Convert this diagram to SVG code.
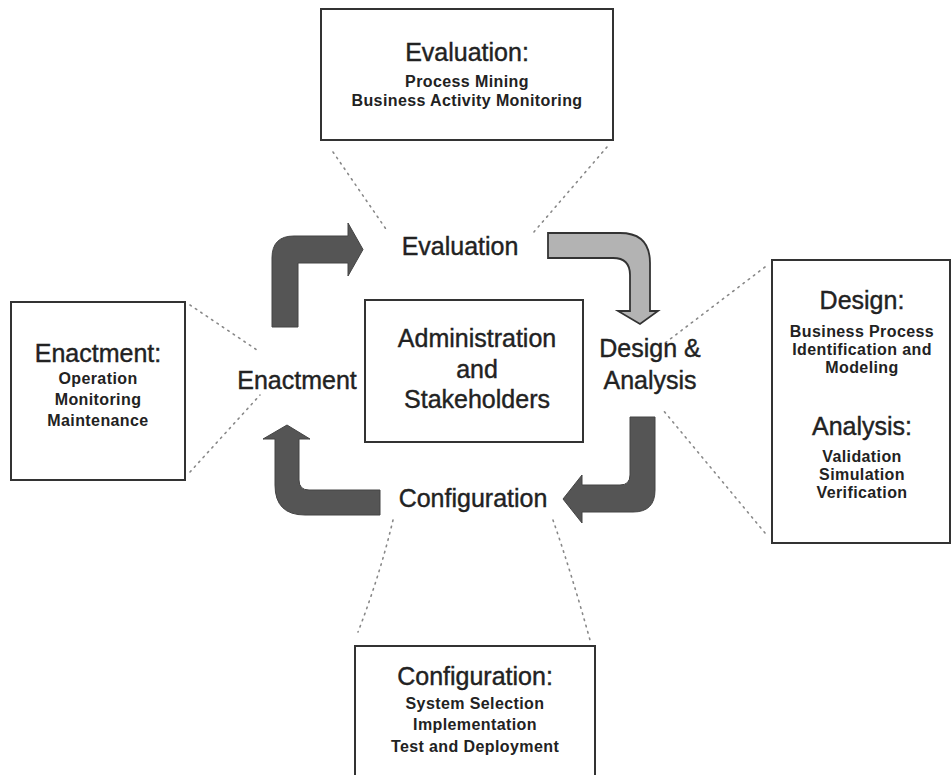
<svg xmlns="http://www.w3.org/2000/svg" width="952" height="775" viewBox="0 0 952 775">
<style>
.box{fill:#fff;stroke:#333;stroke-width:2}
.big{font-family:"Liberation Sans",Arial,sans-serif;font-size:25px;fill:#222;stroke:#222;stroke-width:0.4;text-anchor:middle}
.sm{font-family:"Liberation Sans",Arial,sans-serif;font-size:16px;font-weight:bold;letter-spacing:0.4px;fill:#222;text-anchor:middle}
.dot{fill:none;stroke:#888;stroke-width:1.6;stroke-dasharray:1.5 5;stroke-linecap:round}
.dark{fill:#555;stroke:#444;stroke-width:1}
.light{fill:#b3b3b3;stroke:#333;stroke-width:1.8}
</style>
<rect width="952" height="775" fill="#fff"/>
<g id="connectors">
<path class="dot" d="M333,152 L388,232"/>
<path class="dot" d="M607,147 L533,233"/>
<path class="dot" d="M190,305 L260,352"/>
<path class="dot" d="M190,472 L260,395"/>
<path class="dot" d="M765,267 L665,343"/>
<path class="dot" d="M765,533 L663,410"/>
<path class="dot" d="M393,520 Q380,575 358,632"/>
<path class="dot" d="M553,520 Q572,575 590,640"/>
<path id="arrow-enact-eval" class="dark" d="M272,327 L272,258 Q272,236 294,236 L348,236 L348,223 L363,249.5 L348,276 L348,263 L298,263 L298,327 Z"/>
<path id="arrow-eval-design" class="light" d="M548,233 L620,233 Q650,233 650,263 L650,311 L658,311 L640,324 L618,311 L630,311 L630,275 Q630,258 613,258 L548,258 Z"/>
<path id="arrow-design-config" class="dark" d="M630,417 L655,417 L655,490 Q655,512 633,512 L582,512 L582,523 L563,499 L582,475 L582,485 L620,485 Q630,485 630,475 Z"/>
<path id="arrow-config-enact" class="dark" d="M380,490 L380,515 L305,515 Q275,515 275,485 L275,439 L263,439 L287,425 L310,439 L299,439 L299,480 Q299,490 309,490 Z"/>
</g>
<g id="evaluation-box">
<rect class="box" x="321" y="9" width="292" height="131"/>
<text class="big" x="467" y="61">Evaluation:</text>
<text class="sm" x="467" y="87">Process Mining</text>
<text class="sm" x="467" y="106">Business Activity Monitoring</text>
</g>
<g id="enactment-box">
<rect class="box" x="11" y="302" width="174" height="178"/>
<text class="big" x="98" y="362">Enactment:</text>
<text class="sm" x="98" y="384">Operation</text>
<text class="sm" x="98" y="405">Monitoring</text>
<text class="sm" x="98" y="426">Maintenance</text>
</g>
<g id="design-box">
<rect class="box" x="772" y="260" width="178" height="283"/>
<text class="big" x="862" y="309">Design:</text>
<text class="sm" x="862" y="337">Business Process</text>
<text class="sm" x="862" y="355">Identification and</text>
<text class="sm" x="862" y="373">Modeling</text>
<text class="big" x="862" y="435">Analysis:</text>
<text class="sm" x="862" y="462">Validation</text>
<text class="sm" x="862" y="480">Simulation</text>
<text class="sm" x="862" y="498">Verification</text>
</g>
<g id="configuration-box">
<rect class="box" x="355" y="646" width="240" height="140"/>
<text class="big" x="475" y="685">Configuration:</text>
<text class="sm" x="475" y="709">System Selection</text>
<text class="sm" x="475" y="730">Implementation</text>
<text class="sm" x="475" y="752">Test and Deployment</text>
</g>
<g id="center-box">
<rect class="box" x="365" y="300" width="218" height="142"/>
<text class="big" x="477" y="347">Administration</text>
<text class="big" x="477" y="378">and</text>
<text class="big" x="477" y="408">Stakeholders</text>
</g>
<g id="label-evaluation"><text class="big" x="460" y="255">Evaluation</text></g>
<g id="label-enactment"><text class="big" x="297" y="389">Enactment</text></g>
<g id="label-design"><text class="big" x="650" y="357">Design &amp;</text><text class="big" x="650" y="389">Analysis</text></g>
<g id="label-configuration"><text class="big" x="473" y="507">Configuration</text></g>
</svg>
